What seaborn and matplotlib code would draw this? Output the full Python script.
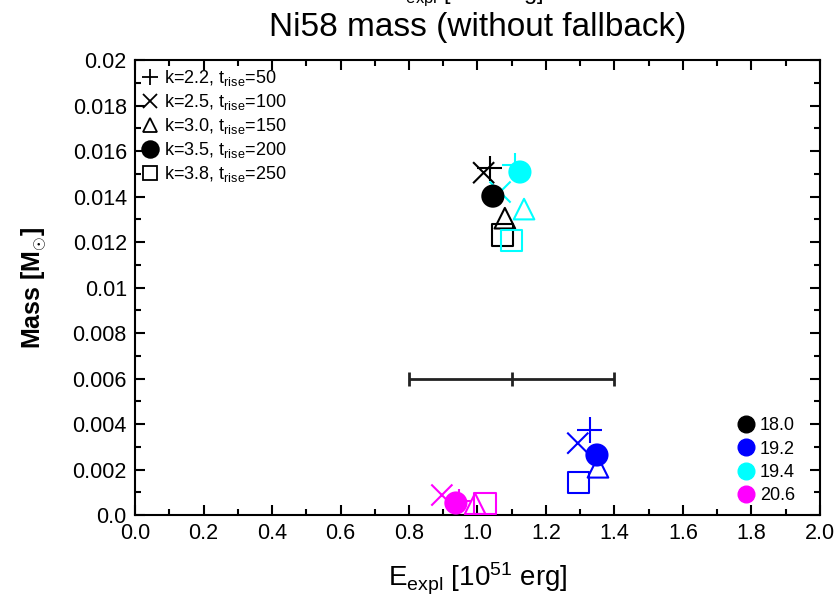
import numpy as np
import pandas as pd
import matplotlib
matplotlib.use("Agg")
import matplotlib.pyplot as plt
import seaborn as sns
from matplotlib.ticker import MultipleLocator, FixedLocator, FixedFormatter
from matplotlib.lines import Line2D

# ---- data ----
models = ["18.0", "19.2", "19.4", "20.6"]
model_colors = ["black", "blue", "cyan", "magenta"]
params = ["k=2.2, t$_{rise}$=50", "k=2.5, t$_{rise}$=100", "k=3.0, t$_{rise}$=150",
          "k=3.5, t$_{rise}$=200", "k=3.8, t$_{rise}$=250"]
param_markers = ["+", "x", "^", "o", "s"]
param_filled = [False, False, False, True, False]

# energy [1e51 erg] per model, in order of params
E_18_0 = [1.036, 1.018, 1.080, 1.045, 1.072]
E_19_2 = [1.328, 1.293, 1.352, 1.349, 1.296]
E_19_4 = [1.109, 1.066, 1.136, 1.124, 1.100]
E_20_6 = [0.945, 0.896, 0.993, 0.937, 1.022]
# Ni58 mass [Msun]
M_18_0 = [0.01525, 0.01505, 0.01305, 0.01402, 0.01231]
M_19_2 = [0.00374, 0.00316, 0.00210, 0.00264, 0.00145]
M_19_4 = [0.01538, 0.01420, 0.01345, 0.01508, 0.01209]
M_20_6 = [0.00060, 0.00088, 0.00050, 0.00053, 0.00050]

# observational range
err_x = [1.1]
err_y = [0.006]
err_xerr = [0.3]

xticks = [0.0, 0.2, 0.4, 0.6, 0.8, 1.0, 1.2, 1.4, 1.6, 1.8, 2.0]
xticklabels = ["0.0", "0.2", "0.4", "0.6", "0.8", "1.0", "1.2", "1.4", "1.6", "1.8", "2.0"]
yticks = [0.0, 0.002, 0.004, 0.006, 0.008, 0.01, 0.012, 0.014, 0.016, 0.018, 0.02]
yticklabels = ["0.0", "0.002", "0.004", "0.006", "0.008", "0.01", "0.012", "0.014",
               "0.016", "0.018", "0.02"]

E_all = [E_18_0, E_19_2, E_19_4, E_20_6]
M_all = [M_18_0, M_19_2, M_19_4, M_20_6]
rows = []
for mi, m in enumerate(models):
    for pi, p in enumerate(params):
        rows.append({"model": m, "param": p, "E": E_all[mi][pi], "M": M_all[mi][pi]})
df = pd.DataFrame(rows)

# ---- style ----
sns.set_theme(style="ticks")
plt.rcParams["font.family"] = ["Liberation Sans", "DejaVu Sans"]
plt.rcParams["mathtext.fontset"] = "custom"
plt.rcParams["mathtext.rm"] = "Liberation Sans"
plt.rcParams["mathtext.it"] = "Liberation Sans"
for k in ["text.color", "axes.labelcolor", "xtick.color", "ytick.color",
          "axes.edgecolor", "xtick.labelcolor", "ytick.labelcolor"]:
    plt.rcParams[k] = "black"

fig = plt.figure(figsize=(8.34, 6.01), dpi=100)
ax = fig.add_axes([0.162, 0.143, 0.821, 0.757])

palette = dict(zip(models, model_colors))
sizes = {"+": 330, "x": 230, "^": 220, "o": 230, "s": 230}
order = [0, 1, 2, 4, 3]
for pi in order:
    mk = param_markers[pi]
    sub = df[df["param"] == params[pi]]
    sns.scatterplot(data=sub, x="E", y="M", hue="model", palette=palette,
                    marker=mk, s=sizes[mk], linewidth=1.5, legend=False, ax=ax,
                    zorder=3)
    coll = ax.collections[-1]
    if mk in ("^", "s"):
        fc = coll.get_facecolors()
        coll.set_edgecolors(fc)
        coll.set_facecolor("none")
    elif mk == "o":
        coll.set_edgecolors(coll.get_facecolors())

ax.errorbar(err_x, err_y, xerr=err_xerr, fmt="|", color="#222222", ms=10,
            mew=2, elinewidth=2, capsize=5, capthick=2, zorder=2)

ax.set_xlim(0, 2.0)
ax.set_ylim(0, 0.02)
ax.xaxis.set_major_locator(FixedLocator(xticks))
ax.xaxis.set_major_formatter(FixedFormatter(xticklabels))
ax.yaxis.set_major_locator(FixedLocator(yticks))
ax.yaxis.set_major_formatter(FixedFormatter(yticklabels))
ax.xaxis.set_minor_locator(MultipleLocator(0.1))
ax.yaxis.set_minor_locator(MultipleLocator(0.001))
ax.tick_params(which="both", direction="in", top=True, right=True, color="black",
               width=1.5)
ax.tick_params(which="major", length=7, labelsize=15.5, pad=6)
ax.tick_params(which="minor", length=4)
for sp in ax.spines.values():
    sp.set_linewidth(1.5)
    sp.set_color("black")

ax.set_xlabel("E$_{expl}$ [10$^{51}$ erg]", fontsize=20, labelpad=12)
ax.set_ylabel("Mass [M$_{\\odot}$]", fontsize=18, fontweight="bold", labelpad=17)
fig.text(0.573, 0.955, "Ni58 mass (without fallback)", ha="center", va="center",
         fontsize=24)
# heading cut off at the top edge, as in the reference
fig.text(0.56, 1.002, "E$_{expl}$ [10$^{51}$ erg]", ha="center", va="baseline",
         fontsize=17)

# legend 1: parameters
h1 = []
for pi, p in enumerate(params):
    mk = param_markers[pi]
    h1.append(Line2D([], [], linestyle="none", marker=mk, color="black",
                     markerfacecolor="black" if param_filled[pi] else "none",
                     markersize=12 if mk in ("+", "o") else 10, markeredgewidth=1.3,
                     label=p))
leg1 = ax.legend(handles=h1, loc="upper left", frameon=False, fontsize=13,
                 handlelength=0.8, handletextpad=0.35, labelspacing=0.22,
                 borderaxespad=0.15, borderpad=0.3)
ax.add_artist(leg1)

# legend 2: models
h2 = [Line2D([], [], linestyle="none", marker="o", color=c, markersize=12, label=m)
      for m, c in zip(models, model_colors)]
ax.legend(handles=h2, loc="lower right", frameon=False, fontsize=13,
          handlelength=0.8, handletextpad=0.35, labelspacing=0.35,
          borderaxespad=0.4, bbox_to_anchor=(0.985, -0.008))

fig.savefig("out.png", dpi=100)
